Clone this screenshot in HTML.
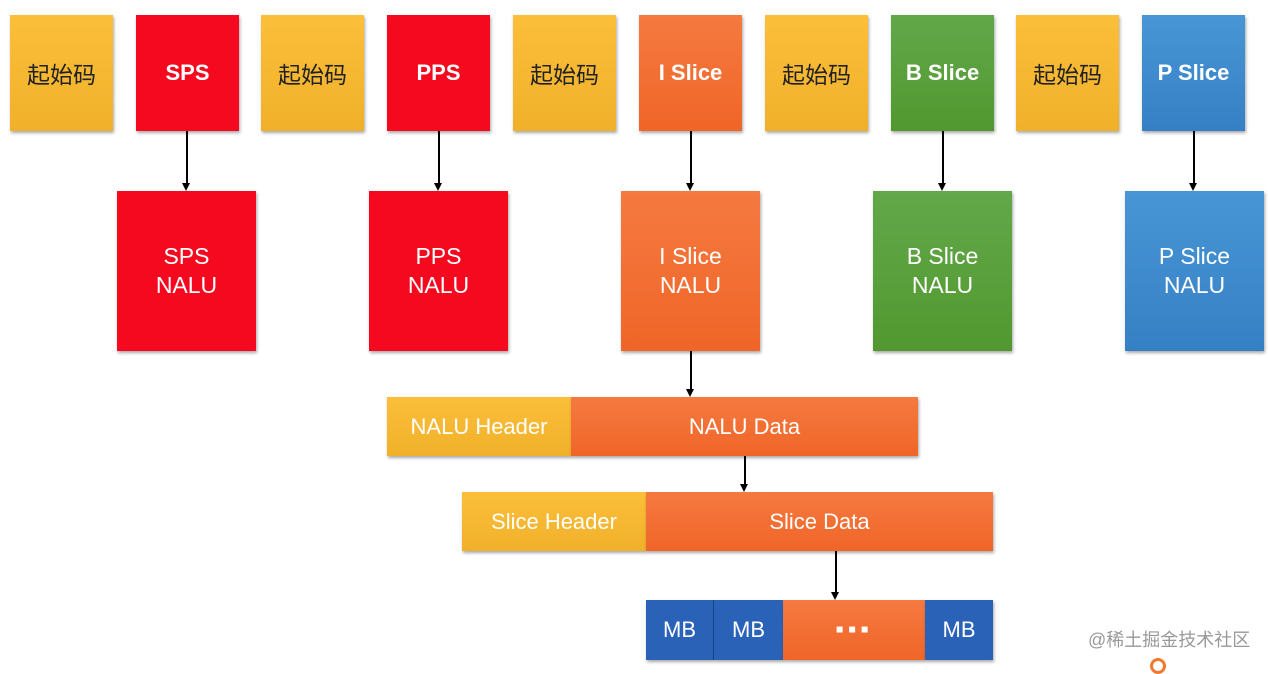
<!DOCTYPE html>
<html><head><meta charset="utf-8"><style>
body{margin:0;width:1268px;height:668px;background:#fff;position:relative;overflow:hidden;font-family:"Liberation Sans","Noto Sans CJK SC",sans-serif}
.b{position:absolute;display:flex;align-items:center;justify-content:center;text-align:center;box-shadow:1px 2px 3px rgba(0,0,0,.35);color:#fff;box-sizing:border-box}
.t{top:15px;height:116px;width:103px;font-size:22px;font-weight:bold}
.y{background:linear-gradient(#fcbf3a,#f0b02a);color:#222;font-weight:normal;font-size:23px}
.r{background:#f5091f}
.o{background:linear-gradient(#f57a40,#f06528)}
.g{background:linear-gradient(#62a84a,#52982f)}
.bl{background:linear-gradient(#4896d6,#3580c4)}
.n{top:191px;height:160px;width:139px;font-size:23px;line-height:29px}
.bar{height:59px;font-size:22px}
.mb{background:#2a62b8;top:600px;height:60px;font-size:22px}
.v{position:absolute;width:1.5px;background:#000}
.ah{position:absolute;width:0;height:0;border-left:4px solid transparent;border-right:4px solid transparent;border-top:8px solid #000}
</style></head><body>
<div class="b t y" style="left:10px">起始码</div>
<div class="b t r" style="left:136px">SPS</div>
<div class="b t y" style="left:261px">起始码</div>
<div class="b t r" style="left:387px">PPS</div>
<div class="b t y" style="left:513px">起始码</div>
<div class="b t o" style="left:639px">I Slice</div>
<div class="b t y" style="left:765px">起始码</div>
<div class="b t g" style="left:891px">B Slice</div>
<div class="b t y" style="left:1016px">起始码</div>
<div class="b t bl" style="left:1142px">P Slice</div>

<div class="b n r" style="left:117px">SPS<br>NALU</div>
<div class="b n r" style="left:369px">PPS<br>NALU</div>
<div class="b n o" style="left:621px">I Slice<br>NALU</div>
<div class="b n g" style="left:873px">B Slice<br>NALU</div>
<div class="b n bl" style="left:1125px">P Slice<br>NALU</div>

<div class="b bar y" style="left:387px;top:397px;width:184px;color:#fff;font-size:22px">NALU Header</div>
<div class="b bar o" style="left:571px;top:397px;width:347px">NALU Data</div>
<div class="b bar y" style="left:462px;top:492px;width:184px;color:#fff;font-size:22px">Slice Header</div>
<div class="b bar o" style="left:646px;top:492px;width:347px">Slice Data</div>

<div class="b mb" style="left:646px;width:68px;border-right:1px solid #1d4a90">MB</div>
<div class="b mb" style="left:714px;width:69px">MB</div>
<div class="b o" style="left:783px;top:600px;height:60px;width:142px;font-size:24px;font-weight:bold;letter-spacing:4px">▪▪▪</div>
<div class="b mb" style="left:925px;width:68px">MB</div>

<div class="v" style="left:186px;top:131px;height:53px"></div><div class="ah" style="left:182px;top:183px"></div>
<div class="v" style="left:438px;top:131px;height:53px"></div><div class="ah" style="left:434px;top:183px"></div>
<div class="v" style="left:690px;top:131px;height:53px"></div><div class="ah" style="left:686px;top:183px"></div>
<div class="v" style="left:942px;top:131px;height:53px"></div><div class="ah" style="left:938px;top:183px"></div>
<div class="v" style="left:1193px;top:131px;height:53px"></div><div class="ah" style="left:1189px;top:183px"></div>
<div class="v" style="left:690px;top:351px;height:39px"></div><div class="ah" style="left:686px;top:389px"></div>
<div class="v" style="left:744px;top:456px;height:29px"></div><div class="ah" style="left:740px;top:484px"></div>
<div class="v" style="left:835px;top:551px;height:42px"></div><div class="ah" style="left:831px;top:592px"></div>

<div style="position:absolute;left:1088px;top:626px;font-size:18px;color:#999">@稀土掘金技术社区</div>
<div style="position:absolute;left:1150px;top:658px;width:16px;height:16px;border-radius:50%;border:3px solid #f07a30;box-sizing:border-box"></div>
</body></html>
